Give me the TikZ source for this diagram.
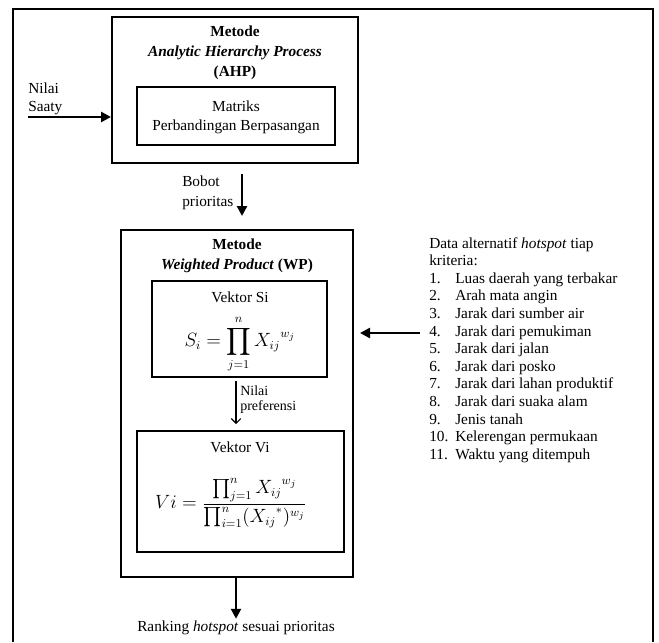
\documentclass[tikz,border=0pt]{standalone}
\usepackage{amsmath}
\usepackage{fontspec}
\setmainfont{Liberation Serif}
\usetikzlibrary{
    arrows.meta,
    calc,
    fit,
    positioning
}

\begin{document}
\begin{tikzpicture}[x=0.75pt, y=0.75pt,
    box/.style={draw, line width=1.5pt, inner sep=0pt},
    flow/.style={-{Triangle[length=7.5pt, width=7.5pt]}, line width=2pt},
    thinflow/.style={-{Straight Barb[length=3.5pt, width=7pt]}, line width=0.8pt},
    txt/.style={inner sep=0pt, align=center, font=\fontsize{11.5}{15}\selectfont},
    mathtxt/.style={inner sep=0pt, font=\fontsize{13.5}{16}\selectfont}]
    \useasboundingbox (0, 0) rectangle (659, -642);
    % outer frame
    \draw[line width=1.1pt] (13, -642) |- (653, -9) -- (653, -642);

    % AHP
    \node[box, fit={(112, -17) (358, -163)}] (ahp) {};
    \node[txt] (ahptitle) at (235, -53)
        {\textbf{Metode}\\\textbf{\textit{Analytic Hierarchy Process}}\\\textbf{(AHP)}};
    \node[box, fit={(137, -87) (335, -145)}] (matriks) {};
    \node[txt, font=\fontsize{11.5}{14.25}\selectfont] (matrikstext) at (236, -117)
        {Matriks\\Perbandingan Berpasangan};
    \node[txt, anchor=west, align=left, font=\fontsize{11.5}{13.5}\selectfont] (saaty) at (28, -99)
        {Nilai\\Saaty};
    \coordinate (saatyin) at (28, -117);
    \draw[flow] (saatyin) -- (saatyin -| ahp.west);

    % WP
    \node[box, fit={(121, -230) (353, -577)}] (wp) {};
    \node[txt] (wptitle) at (237, -256)
        {\textbf{Metode}\\\textbf{\textit{Weighted Product}} \textbf{(WP)}};
    \node[txt, anchor=west, align=left] (bobot) at (182, -193) {Bobot\\prioritas};
    \draw[flow] ($(ahp.south) + (7, -10)$) -- ($(wp.north) + (5, 13)$);

    \node[box, fit={(152, -281) (327, -377)}] (vektorsi) {};
    \node[txt] (sititle) at (240, -297) {Vektor Si};
    \node[mathtxt] (siformula) at (240, -344)
        {$\displaystyle S_i = \prod_{j=1}^{n} {X_{ij}}^{w_j}$};

    \node[box, fit={(137, -431) (344, -552)}] (vektorvi) {};
    \node[txt] (vititle) at (240, -447) {Vektor Vi};
    \node[mathtxt] (viformula) at (231, -503)
        {$\displaystyle Vi = \frac{\prod_{j=1}^{n} {X_{ij}}^{w_j}}{\prod_{i=1}^{n} ({X_{ij}}^{*})^{w_j}}$};

    \node[txt, anchor=west, align=left, font=\fontsize{10.5}{11.25}\selectfont] (preferensi) at (240, -400)
        {Nilai\\preferensi};
    \draw[thinflow] ($(vektorsi.south) + (-3.5, -3)$) -- ($(vektorvi.north) + (-4.5, 6)$);

    % hasil
    \node[txt] (rank) at (236, -628) {Ranking \textit{hotspot} sesuai prioritas};
    \draw[flow] (wp.south -| rank.north) -- ([yshift=1.5pt]rank.north);

    % data kriteria
    \node[inner sep=0pt, anchor=base west, font=\fontsize{11.5}{13.2}\selectfont] (kriteria) at (429, -248)
        {\begin{tabular}[t]{@{}p{19.5pt}@{}l@{}}
            \multicolumn{2}{@{}l@{}}{Data alternatif \textit{hotspot} tiap}\\
            \multicolumn{2}{@{}l@{}}{kriteria:}\\
            1. & Luas daerah yang terbakar\\
            2. & Arah mata angin\\
            3. & Jarak dari sumber air\\
            4. & Jarak dari pemukiman\\
            5. & Jarak dari jalan\\
            6. & Jarak dari posko\\
            7. & Jarak dari lahan produktif\\
            8. & Jarak dari suaka alam\\
            9. & Jenis tanah\\
            10. & Kelerengan permukaan\\
            11. & Waktu yang ditempuh
        \end{tabular}};
    \coordinate (kriteriain) at (420, -333);
    \draw[flow, shorten >=4.5pt] (kriteriain) -- (kriteriain -| wp.east);
\end{tikzpicture}
\end{document}
